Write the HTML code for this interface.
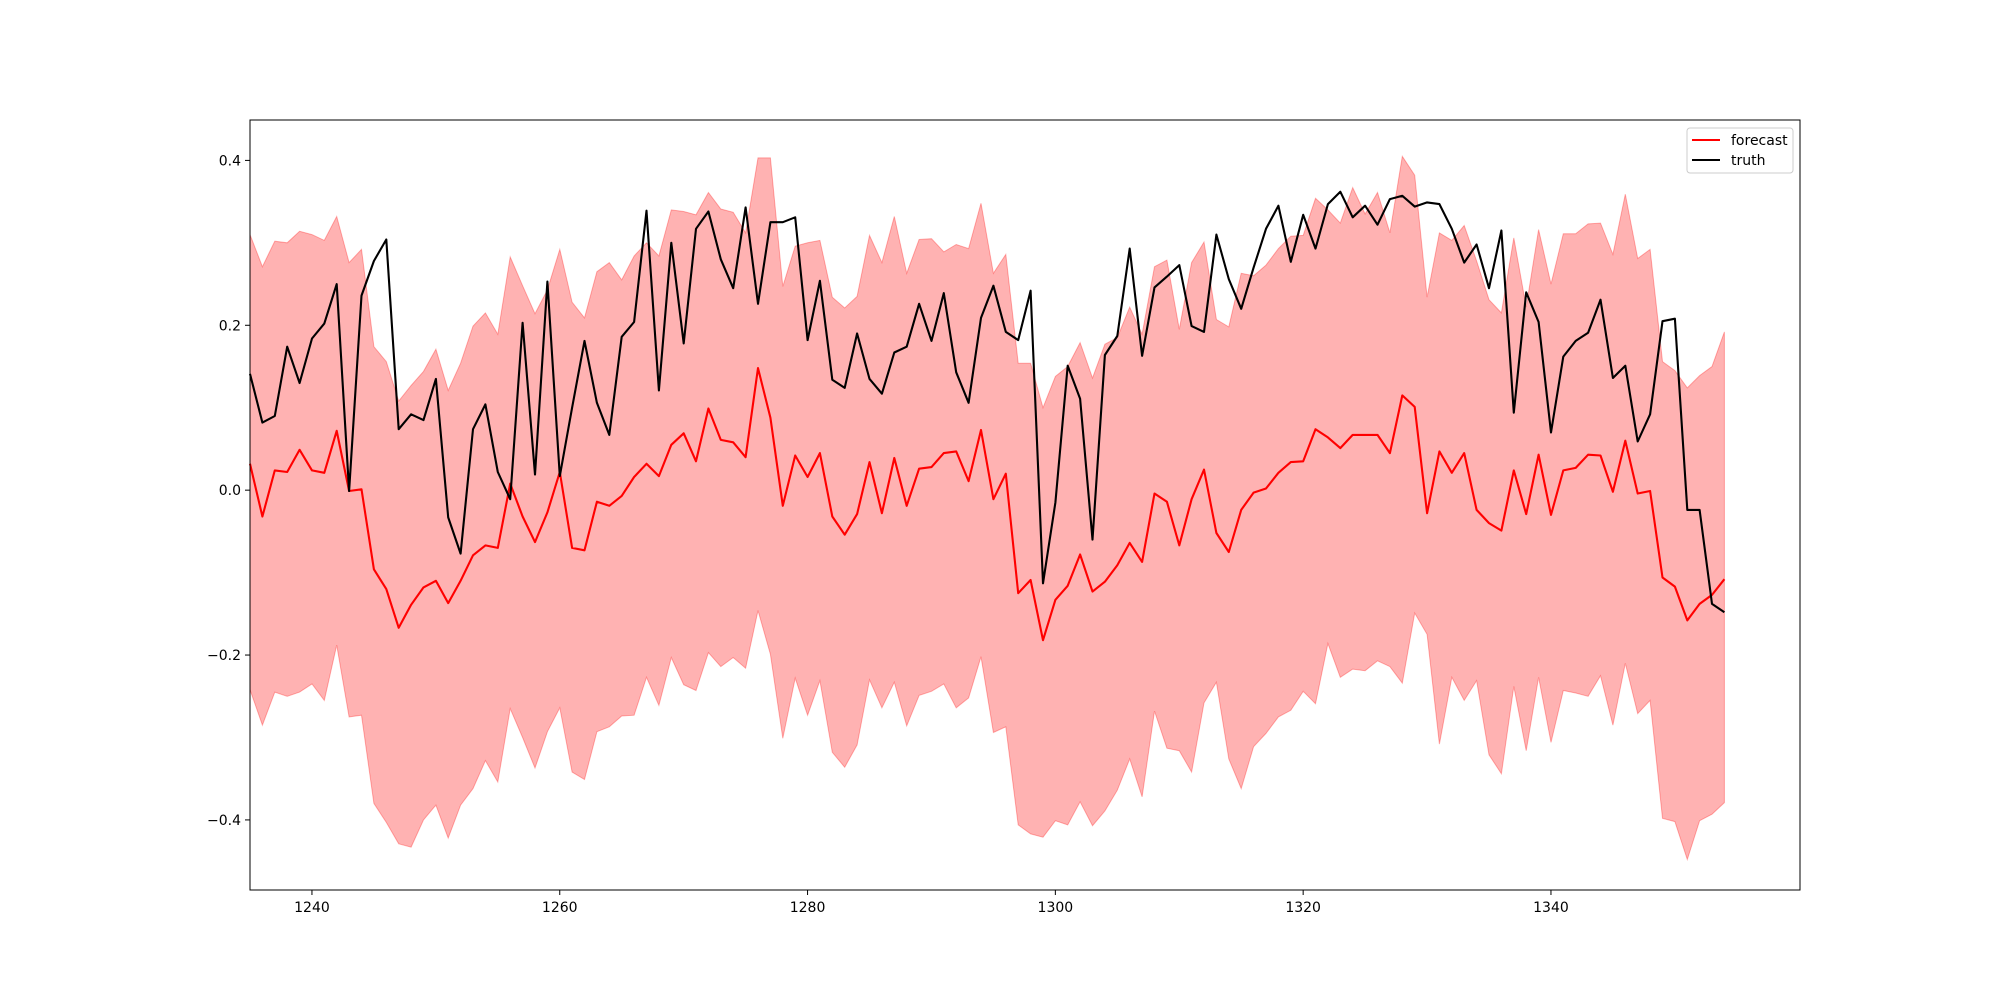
<!DOCTYPE html>
<html><head><meta charset="utf-8"><style>
html,body{margin:0;padding:0;background:#fff;}
svg{display:block;font-family:"DejaVu Sans","Liberation Sans",sans-serif;}
</style></head><body>
<svg id="chart" width="2000" height="1000" viewBox="0 0 2000 1000" xmlns="http://www.w3.org/2000/svg">
<rect x="0" y="0" width="2000" height="1000" fill="#fff"/>
<g id="plot"></g>
<rect x="250" y="120" width="1550" height="770" fill="none" stroke="#000" stroke-width="1"/>
<g id="xticks"></g>
<g id="yticks"></g>
<g>
<rect x="1687" y="128" width="106" height="45" rx="3" fill="#fff" fill-opacity="0.8" stroke="#ccc" stroke-width="1"/>
<line x1="1692" y1="140" x2="1720" y2="140" stroke="red" stroke-width="2"/>
<text x="1731" y="145" font-size="14">forecast</text>
<line x1="1692" y1="160" x2="1720" y2="160" stroke="#000" stroke-width="2"/>
<text x="1731" y="165" font-size="14">truth</text>
</g>
</svg>
<script>
const xStart = 1235;
const forecast = [0.032,-0.032,0.024,0.022,0.049,0.024,0.021,0.072,-0.001,0.001,-0.096,-0.120,-0.167,-0.139,-0.118,-0.110,-0.137,-0.110,-0.079,-0.067,-0.070,0.008,-0.032,-0.063,-0.027,0.022,
-0.070,-0.073,-0.014,-0.019,-0.007,0.016,0.032,0.017,0.055,0.069,0.035,0.099,0.061,0.058,0.040,0.148,0.088,-0.019,0.042,0.016,0.045,-0.032,-0.054,-0.029,0.034,
-0.028,0.039,-0.019,0.026,0.028,0.045,0.047,0.011,0.073,-0.011,0.020,-0.125,-0.109,-0.182,-0.133,-0.116,-0.078,-0.123,-0.111,-0.091,-0.064,-0.087,-0.004,-0.014,-0.067,
-0.011,0.025,-0.052,-0.075,-0.024,-0.003,0.002,0.021,0.034,0.035,0.074,0.064,0.051,0.067,0.067,0.067,0.045,0.115,0.101,-0.028,0.047,0.021,0.045,-0.024,-0.040,
-0.049,0.024,-0.029,0.043,-0.030,0.024,0.027,0.043,0.042,-0.002,0.060,-0.004,-0.001,-0.106,-0.117,-0.158,-0.138,-0.127,-0.108];
const truth = [0.141,0.082,0.090,0.174,0.130,0.184,0.202,0.250,-0.001,0.236,0.278,0.304,0.074,0.092,0.085,0.135,-0.033,-0.077,0.074,0.104,0.022,-0.011,0.203,0.019,0.253,0.017,
0.100,0.181,0.106,0.067,0.186,0.204,0.339,0.121,0.300,0.178,0.317,0.338,0.280,0.245,0.343,0.226,0.325,0.325,0.331,0.182,0.254,0.134,0.124,0.190,0.135,
0.117,0.167,0.174,0.226,0.181,0.239,0.143,0.106,0.209,0.248,0.192,0.182,0.242,-0.113,-0.015,0.151,0.111,-0.060,0.164,0.187,0.293,0.163,0.246,0.259,0.273,
0.199,0.192,0.310,0.256,0.220,0.270,0.317,0.345,0.277,0.334,0.293,0.347,0.362,0.331,0.345,0.322,0.353,0.357,0.344,0.349,0.347,0.317,0.276,0.298,0.245,
0.315,0.094,0.240,0.204,0.070,0.162,0.181,0.191,0.231,0.136,0.151,0.059,0.092,0.205,0.208,-0.024,-0.024,-0.138,-0.148];
const upper = [0.310,0.271,0.302,0.300,0.314,0.310,0.303,0.332,0.276,0.292,0.174,0.156,0.108,0.127,0.144,0.171,0.121,0.154,0.199,0.215,0.189,0.283,0.248,0.214,0.243,0.292,
0.228,0.209,0.265,0.276,0.255,0.284,0.300,0.284,0.340,0.338,0.334,0.361,0.341,0.337,0.312,0.403,0.403,0.247,0.296,0.300,0.303,0.234,0.221,0.235,0.309,
0.276,0.332,0.263,0.304,0.305,0.289,0.298,0.293,0.348,0.263,0.286,0.154,0.154,0.100,0.138,0.150,0.179,0.136,0.177,0.185,0.222,0.189,0.271,0.279,0.195,
0.276,0.301,0.207,0.198,0.263,0.260,0.273,0.293,0.308,0.309,0.354,0.340,0.324,0.367,0.335,0.361,0.312,0.405,0.382,0.234,0.312,0.303,0.321,0.278,0.231,
0.215,0.306,0.222,0.316,0.250,0.311,0.311,0.323,0.324,0.286,0.359,0.281,0.292,0.156,0.145,0.124,0.139,0.150,0.192];
const lower = [-0.242,-0.285,-0.245,-0.250,-0.245,-0.235,-0.255,-0.188,-0.275,-0.273,-0.380,-0.403,-0.429,-0.433,-0.400,-0.382,-0.422,-0.382,-0.362,-0.328,-0.354,-0.265,-0.300,-0.337,-0.293,-0.264,
-0.342,-0.351,-0.293,-0.287,-0.274,-0.273,-0.227,-0.261,-0.203,-0.236,-0.243,-0.197,-0.214,-0.203,-0.216,-0.146,-0.199,-0.301,-0.228,-0.273,-0.231,-0.318,-0.336,-0.309,-0.230,
-0.264,-0.233,-0.286,-0.249,-0.244,-0.235,-0.264,-0.252,-0.202,-0.294,-0.287,-0.406,-0.417,-0.421,-0.401,-0.406,-0.378,-0.407,-0.389,-0.364,-0.326,-0.372,-0.268,-0.313,-0.316,
-0.342,-0.258,-0.233,-0.326,-0.362,-0.311,-0.295,-0.275,-0.267,-0.244,-0.259,-0.186,-0.227,-0.217,-0.219,-0.207,-0.214,-0.234,-0.149,-0.175,-0.308,-0.227,-0.255,-0.231,-0.321,
-0.344,-0.238,-0.316,-0.227,-0.306,-0.243,-0.246,-0.250,-0.225,-0.285,-0.210,-0.271,-0.255,-0.398,-0.402,-0.448,-0.401,-0.393,-0.379];
const xTickValues = [1240,1260,1280,1300,1320,1340];
const yTickValues = [-0.4,-0.2,0.0,0.2,0.4];
const yTickLabels = ["\u22120.4","\u22120.2","0.0","0.2","0.4"];

const X0=250,X1=1800,Y0=120,Y1=890;
const xMin=1235,xMax=1360.1,yMin=-0.485,yMax=0.449;
function sx(v){return X0+(v-xMin)/(xMax-xMin)*(X1-X0);}
function sy(v){return Y1-(v-yMin)/(yMax-yMin)*(Y1-Y0);}
const NS="http://www.w3.org/2000/svg";
const plot=document.getElementById('plot');
function xs(i){return sx(xStart+i);}

let d='';
upper.forEach((v,i)=>{d+=(i?'L':'M')+xs(i).toFixed(1)+','+sy(v).toFixed(1);});
for(let i=lower.length-1;i>=0;i--){d+='L'+xs(i).toFixed(1)+','+sy(lower[i]).toFixed(1);}
d+='Z';
const band=document.createElementNS(NS,'path');
band.setAttribute('d',d);
band.setAttribute('fill','red');band.setAttribute('fill-opacity','0.3');
band.setAttribute('stroke','red');band.setAttribute('stroke-opacity','0.3');band.setAttribute('stroke-width','1');


plot.appendChild(band);

function line(arr,color){
  const p=document.createElementNS(NS,'polyline');
  p.setAttribute('points',arr.map((v,i)=>xs(i).toFixed(1)+','+sy(v).toFixed(1)).join(' '));
  p.setAttribute('fill','none');p.setAttribute('stroke',color);p.setAttribute('stroke-width','2.1');
  p.setAttribute('stroke-linejoin','round');
  plot.appendChild(p);return p;
}
const fl=line(forecast,'red');


const tl=line(truth,'#000');



const xg=document.getElementById('xticks');
xTickValues.forEach(v=>{
  const x=sx(v);
  const t=document.createElementNS(NS,'line');
  t.setAttribute('x1',x);t.setAttribute('x2',x);t.setAttribute('y1',Y1);t.setAttribute('y2',Y1+5);
  t.setAttribute('stroke','#000');
  
  
  xg.appendChild(t);
  const tx=document.createElementNS(NS,'text');
  tx.setAttribute('x',x);tx.setAttribute('y',Y1+22);tx.setAttribute('text-anchor','middle');tx.setAttribute('font-size','14');
  tx.textContent=String(v);
  
  
  xg.appendChild(tx);
});
const yg=document.getElementById('yticks');
yTickValues.forEach((v,i)=>{
  const y=sy(v);
  const t=document.createElementNS(NS,'line');
  t.setAttribute('x1',X0-5);t.setAttribute('x2',X0);t.setAttribute('y1',y);t.setAttribute('y2',y);
  t.setAttribute('stroke','#000');
  
  
  yg.appendChild(t);
  const tx=document.createElementNS(NS,'text');
  tx.setAttribute('x',X0-9);tx.setAttribute('y',y+5);tx.setAttribute('text-anchor','end');tx.setAttribute('font-size','14');
  tx.textContent=yTickLabels[i];
  
  
  yg.appendChild(tx);
});
</script>
</body></html>
